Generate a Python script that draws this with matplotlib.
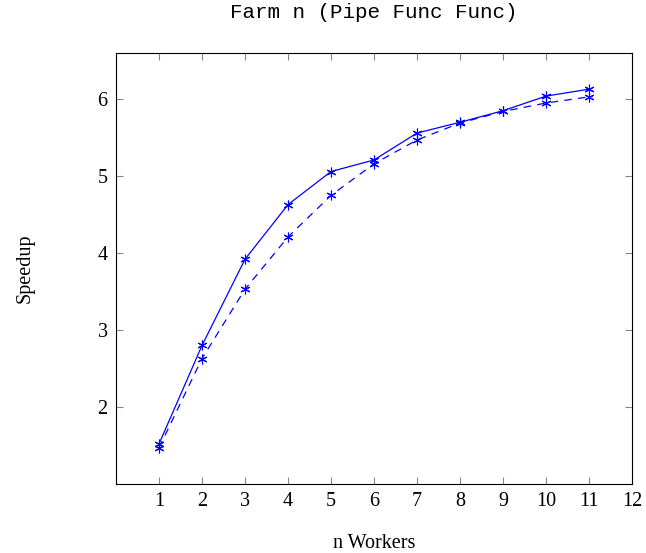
import matplotlib.pyplot as plt

workers = [1, 2, 3, 4, 5, 6, 7, 8, 9, 10, 11]
speedup_solid = [1.52, 2.80, 3.92, 4.63, 5.06, 5.21, 5.56, 5.70, 5.85, 6.04, 6.13]
speedup_dashed = [1.47, 2.63, 3.53, 4.21, 4.75, 5.16, 5.47, 5.69, 5.84, 5.95, 6.03]
xticks = list(range(1, 13))
yticks = [2, 3, 4, 5, 6]

plt.rcParams['font.family'] = ['Liberation Serif', 'DejaVu Serif']
plt.rcParams['mathtext.fontset'] = 'stix'

fig = plt.figure(figsize=(6.46, 5.53), dpi=100)
ax = fig.add_axes([116 / 646, 1 - 484 / 553, 516 / 646, 431 / 553])

ax.plot(workers, speedup_solid, color='blue', lw=0.9,
        marker=(6, 2, 0), markersize=7, markeredgewidth=0.8)
ax.plot(workers, speedup_dashed, color='blue', lw=0.9, dashes=(6, 5),
        marker=(6, 2, 0), markersize=7, markeredgewidth=0.8)

ax.set_xlim(0, 12)
ax.set_ylim(1.0, 6.6)
ax.set_xticks(xticks)
ax.set_yticks(yticks)
ax.tick_params(direction='in', top=True, right=True, length=5,
               color='#888888', labelsize=14.5, width=0.8, pad=6)
for s in ax.spines.values():
    s.set_linewidth(0.8)

ax.set_xlabel('n Workers', fontsize=14.5, labelpad=16)
ax.set_ylabel('Speedup', fontsize=14.5, labelpad=45)
ax.set_title('Farm n (Pipe Func Func)', fontsize=15, pad=25,
             family=['Liberation Mono', 'DejaVu Sans Mono'])

fig.savefig('out.png', dpi=100)
